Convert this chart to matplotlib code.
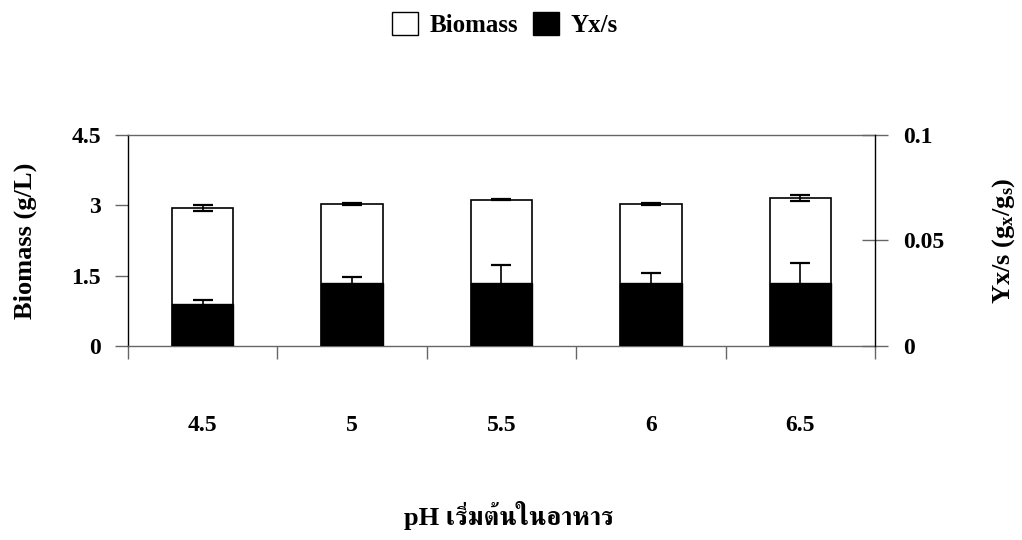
import numpy as np
import matplotlib
matplotlib.use("Agg")
import matplotlib.pyplot as plt
from matplotlib.patches import Patch

# ค่าที่อ่านจากกราฟ
ph_labels = ["4.5", "5", "5.5", "6", "6.5"]
biomass = [2.95, 3.03, 3.12, 3.03, 3.16]
biomass_err = [0.065, 0.03, 0.01, 0.03, 0.06]
yxs = [0.020, 0.030, 0.030, 0.030, 0.030]
yxs_err = [0.0016, 0.0027, 0.0082, 0.0046, 0.0093]

left_ticks = [0, 1.5, 3, 4.5]
left_labels = ["0", "1.5", "3", "4.5"]
right_ticks = [0, 0.05, 0.1]
right_labels = ["0", "0.05", "0.1"]

plt.rcParams["font.family"] = ["Liberation Serif", "FreeSerif"]
plt.rcParams["font.weight"] = "bold"
plt.rcParams["axes.labelweight"] = "bold"
plt.rcParams["mathtext.fontset"] = "custom"
plt.rcParams["mathtext.rm"] = "Liberation Serif:bold"
plt.rcParams["mathtext.it"] = "Liberation Serif:bold"

GRAY = "#666666"


def main():
    fig = plt.figure(figsize=(10.22, 5.4), dpi=100)
    ax1 = fig.add_axes([0.1252, 0.3593, 0.7310, 0.3907])
    ax2 = ax1.twinx()

    x = np.arange(len(ph_labels))
    w = 0.41

    # Biomass (แกนซ้าย)
    ax1.bar(x, biomass, w, color="white", edgecolor="black", linewidth=1.2, zorder=2)
    ax1.errorbar(x, biomass, yerr=biomass_err, fmt="none", ecolor="black",
                 elinewidth=1.2, capsize=7, capthick=1.6, zorder=3)

    # Yx/s (แกนขวา)
    ax2.bar(x, yxs, w, color="black", edgecolor="black", linewidth=1.0, zorder=2)
    ax2.errorbar(x, yxs, yerr=yxs_err, fmt="none", ecolor="black",
                 elinewidth=1.2, capsize=7, capthick=1.6, zorder=3)

    ax1.set_xlim(-0.5, len(ph_labels) - 0.5)
    ax1.set_ylim(0, 4.5)
    ax2.set_ylim(0, 0.1)

    ax1.set_xticks(x)
    ax1.set_xticklabels(ph_labels, fontsize=17)
    ax1.set_xticks(np.arange(-0.5, len(ph_labels)), minor=True)
    ax1.tick_params(axis="x", which="major", length=0, pad=50)
    ax1.tick_params(axis="x", which="minor", length=9, width=1.0, color=GRAY, direction="out")

    ax1.set_yticks(left_ticks)
    ax1.set_yticklabels(left_labels, fontsize=17)
    ax1.tick_params(axis="y", length=9.5, width=1.0, color=GRAY, direction="out", pad=10)

    ax2.set_yticks(right_ticks)
    ax2.set_yticklabels(right_labels, fontsize=17)
    ax2.tick_params(axis="y", length=19, width=1.0, color=GRAY, direction="inout", pad=11)

    ax1.spines["right"].set_visible(False)
    ax1.spines["left"].set_color("black")
    ax1.spines["top"].set_color(GRAY)
    ax1.spines["bottom"].set_color(GRAY)
    for s in ["left", "top", "bottom"]:
        ax2.spines[s].set_visible(False)
    ax2.spines["right"].set_color("black")
    for sp in list(ax1.spines.values()) + list(ax2.spines.values()):
        sp.set_linewidth(1.0)

    ax1.set_ylabel("Biomass (g/L)", fontsize=19, va="center")
    ax1.yaxis.set_label_coords(-0.138, 0.5)
    ax2.set_ylabel(r"Yx/s (g$\mathregular{_x}$/g$\mathregular{_s}$)", fontsize=19, va="center")
    ax2.yaxis.set_label_coords(1.172, 0.5)
    ax1.set_xlabel("pH เริ่มต้นในอาหาร", fontsize=19, va="baseline")
    ax1.xaxis.set_label_coords(0.51, -0.848)

    handles = [Patch(facecolor="white", edgecolor="black", linewidth=1.0, label="Biomass"),
               Patch(facecolor="black", edgecolor="black", label="Yx/s")]
    fig.legend(handles=handles, loc="center", bbox_to_anchor=(0.494, 0.954), ncol=2,
               frameon=False, fontsize=18, handlelength=1.05, handleheight=1.05,
               handletextpad=0.45, columnspacing=0.6)

    fig.savefig("out.png", dpi=100)


if __name__ == "__main__":
    main()
